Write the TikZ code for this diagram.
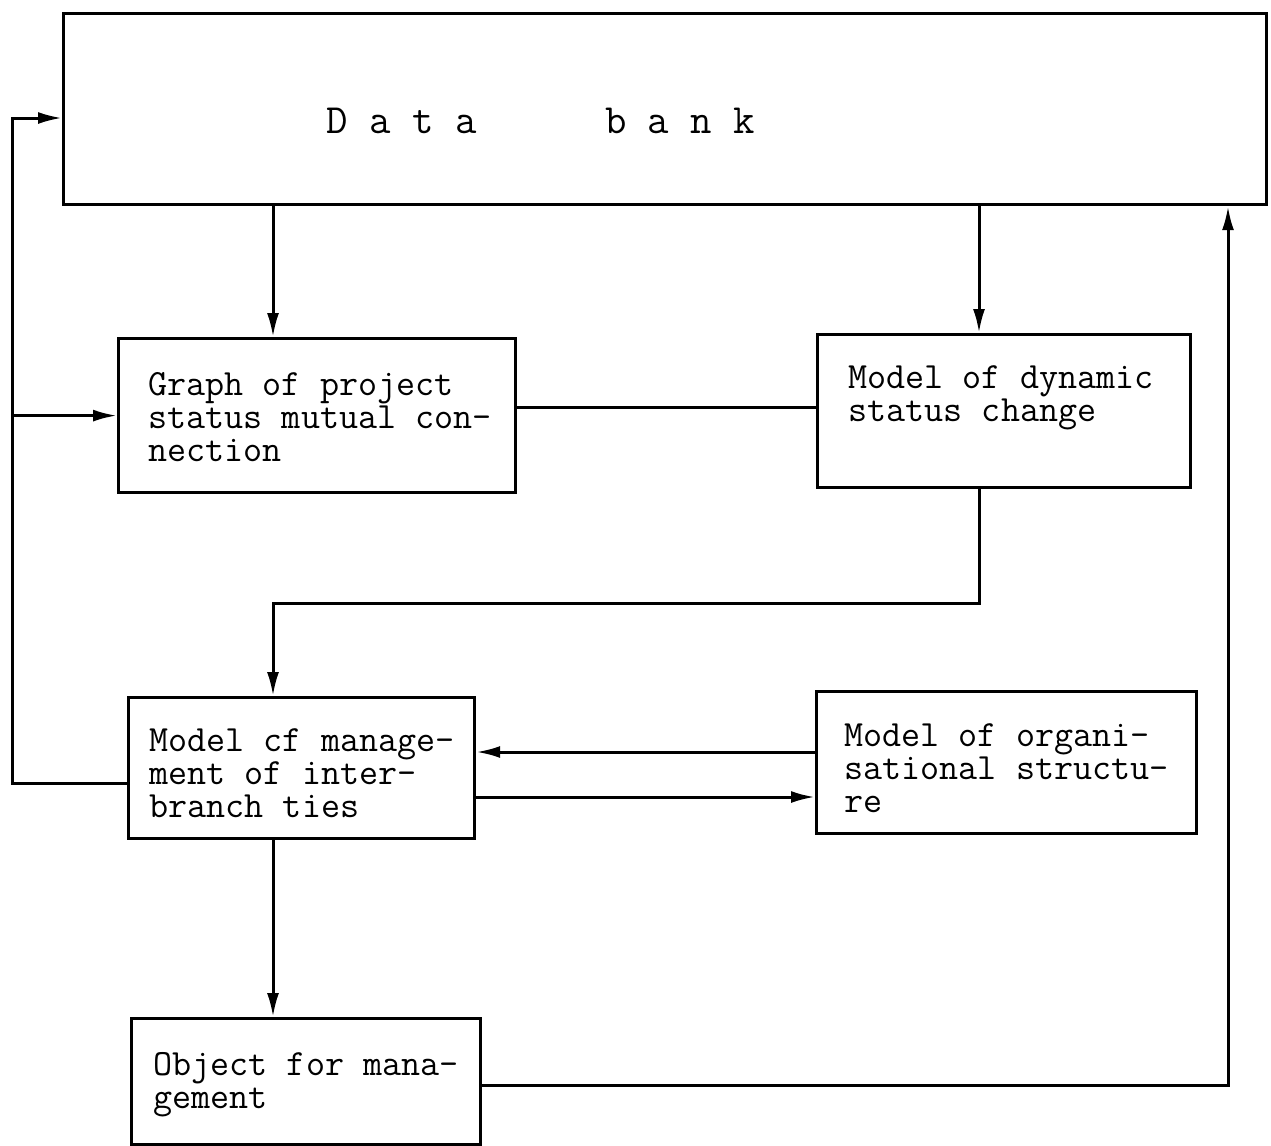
\documentclass[tikz,border=0pt]{standalone}
\usepackage{fontspec}
\usetikzlibrary{arrows.meta}
\tikzset{
  box/.style={draw, line width=1.6pt, inner sep=0pt, anchor=north west,
    font=\ttfamily\fontsize{18.5pt}{16.5pt}\selectfont},
  conn/.style={line width=1.5pt},
  arr/.style={conn, -{Latex[length=12pt,width=6pt]}},
}
% width, height, left pad, first baseline, lines
\newcommand\bxc[5]{\parbox[c][#2][t]{#1}{\leftskip=#3\relax\parindent=0pt\rightskip=0pt plus 1fil minus 100pt\relax\hyphenpenalty=10000 \rule{0pt}{#4}\ignorespaces#5\par}}
\begin{document}
\begin{tikzpicture}[x=0.5pt,y=-0.5pt]
\useasboundingbox (0,0) rectangle (1271,1146);
% boxes
\node[box] (db) at (62,12) {\bxc{601.5pt}{95.5pt}{131.5pt}{60pt}{\fontsize{20.8pt}{20pt}\selectfont D~a~t~a~~~~~~b~a~n~k}};
\node[box] (g) at (117,337) {\bxc{198.5pt}{77pt}{15pt}{28.5pt}{Graph of project\newline status mutual con-\newline nection}};
\node[box] (d) at (816,333) {\bxc{186.5pt}{76.5pt}{15.5pt}{27pt}{Model of dynamic\newline status change}};
\node[box] (m) at (127,696) {\bxc{173pt}{70.5pt}{10.5pt}{27pt}{Model cf manage-\newline ment of inter-\newline branch ties}};
\node[box] (r) at (815,690) {\bxc{190pt}{71pt}{14pt}{27.5pt}{Model of organi-\newline sational structu-\newline re}};
\node[box] (o) at (130,1017) {\bxc{174.5pt}{63pt}{11pt}{28.5pt}{Object for mana-\newline gement}};
% helper coordinates
\coordinate (lt) at (12,118);
\coordinate (ly) at (0,783);
\coordinate (c1) at (273,0);
\coordinate (c2) at (979,0);
\coordinate (c3) at (0,407);
\coordinate (c4) at (0,603);
\coordinate (c5) at (0,1085);
\coordinate (c6) at (1228,0);
\coordinate (c7) at (0,752);
\coordinate (c8) at (0,797);
% connectors
\draw[arr] (m.west |- ly) -| (lt) -- (db.west |- lt);
\draw[arr] (lt |- g.west) -- (g.west);
\draw[arr] (db.south -| c1) -- (g.north -| c1);
\draw[arr] (db.south -| c2) -- (d.north -| c2);
\draw[conn] (g.east |- c3) -- (d.west |- c3);
\draw[arr] (d.south -| c2) -- (c2 |- c4) -| (m.north -| c1);
\draw[arr] (r.west |- c7) -- (m.east |- c7);
\draw[arr] (m.east |- c8) -- (r.west |- c8);
\draw[arr] (m.south -| c1) -- (o.north -| c1);
\draw[arr] (o.east |- c5) -| (db.south -| c6);
\end{tikzpicture}
\end{document}
